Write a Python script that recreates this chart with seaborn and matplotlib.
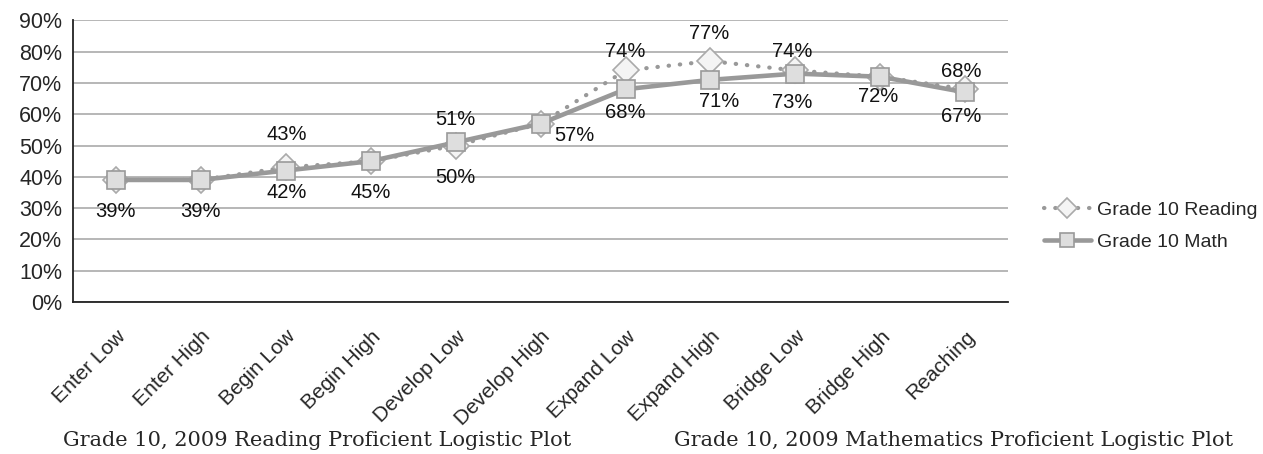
import numpy as np
import pandas as pd
import seaborn as sns
import matplotlib.pyplot as plt
from matplotlib.ticker import PercentFormatter, FixedLocator

categories = ['Enter Low', 'Enter High', 'Begin Low', 'Begin High', 'Develop Low',
              'Develop High', 'Expand Low', 'Expand High', 'Bridge Low', 'Bridge High',
              'Reaching']
reading = [39, 39, 43, 45, 50, 57, 74, 77, 74, 72, 68]
math = [39, 39, 42, 45, 51, 57, 68, 71, 73, 72, 67]

# label offsets (points) for each data label, None = no label
reading_off = [None, None, (1, 24), None, (0, -23), None, (0, 14), (-1, 20), (-2, 14), None, (-3, 13)]
math_off = [(0, -23), (0, -23), (1, -16), (0, -22.5), (0, 16.5), (24, -8.5), (0, -17),
            (6, -15.5), (-2, -21), (-2, -14.5), (-3, -17.5)]

sns.set_style('white')
plt.rcParams['font.family'] = ['Liberation Sans', 'DejaVu Sans']

df = pd.DataFrame({'pos': np.arange(len(categories)), 'cat': categories,
                   'Grade 10 Reading': reading, 'Grade 10 Math': math})

fig, ax = plt.subplots(figsize=(12.63, 4.54), dpi=100)
fig.subplots_adjust(left=0.058, right=0.798, top=0.955, bottom=0.335)

sns.lineplot(data=df, x='pos', y='Grade 10 Reading', ax=ax, color='#999999',
             linestyle=(0, (0.1, 2.6)), dash_capstyle='round', linewidth=3,
             marker='D', markersize=13,
             markerfacecolor='#f4f4f4', markeredgecolor='#aaaaaa', markeredgewidth=1.2,
             label='Grade 10 Reading')
sns.lineplot(data=df, x='pos', y='Grade 10 Math', ax=ax, color='#999999',
             linewidth=3.3, marker='s', markersize=13,
             markerfacecolor='#dedede', markeredgecolor='#9a9a9a', markeredgewidth=1.2,
             label='Grade 10 Math')

for vals, offs in ((reading, reading_off), (math, math_off)):
    for i, (v, o) in enumerate(zip(vals, offs)):
        if o is None:
            continue
        ax.annotate(f'{v}%', (i, v), xytext=o, textcoords='offset points',
                    ha='center', va='center', fontsize=14.5, color='#111111')

ax.set_xlim(-0.5, len(categories) - 0.5)
ax.set_ylim(0, 90)
ax.set_yticks(range(0, 91, 10))
ax.yaxis.set_major_formatter(PercentFormatter(decimals=0))
ax.yaxis.grid(True, color='#aaaaaa', linewidth=1.2)
ax.set_xticks(df['pos'])
ax.set_xticklabels(categories, rotation=45, ha='right', va='top', rotation_mode='anchor',
                   fontsize=15)
ax.xaxis.set_minor_locator(FixedLocator(np.arange(-0.5, len(categories), 1)))
ax.tick_params(axis='x', which='major', length=0, pad=18)
ax.tick_params(axis='x', which='minor', length=6, width=1.2, color='#222222', direction='out')
ax.tick_params(axis='y', length=5, width=1.2, color='#222222', labelsize=15.5, direction='out', pad=3)
ax.set_xlabel('')
ax.set_ylabel('')

for s in ('top', 'right'):
    ax.spines[s].set_visible(False)
for s in ('left', 'bottom'):
    ax.spines[s].set_color('#222222')
    ax.spines[s].set_linewidth(1.3)

ax.legend(loc='center left', bbox_to_anchor=(1.02, 0.27), frameon=False,
          fontsize=14, handlelength=2.4, labelspacing=0.75, handletextpad=0.3,
          markerscale=0.75)

fig.text(0.251, 0.018, 'Grade 10, 2009 Reading Proficient Logistic Plot',
         ha='center', fontsize=15, family=['DejaVu Serif'])
fig.text(0.755, 0.018, 'Grade 10, 2009 Mathematics Proficient Logistic Plot',
         ha='center', fontsize=15, family=['DejaVu Serif'])

fig.savefig('out.png', dpi=100)
